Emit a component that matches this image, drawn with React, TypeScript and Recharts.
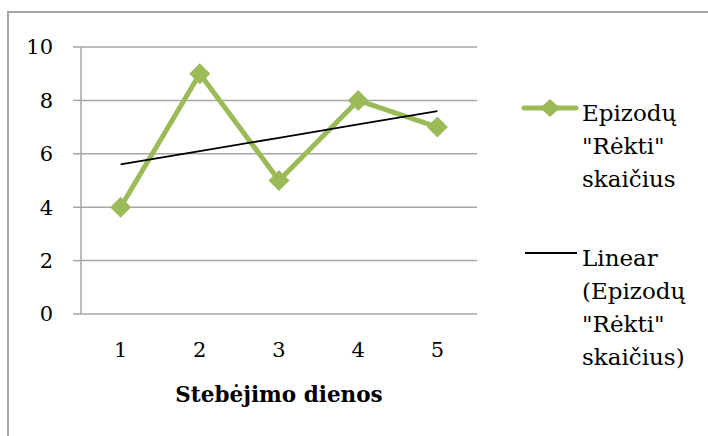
import { LineChart, Line, XAxis, YAxis, CartesianGrid } from "recharts";

// Episode counts per observation day, plus the fitted linear trend
const days = [1, 2, 3, 4, 5];
const episodes = [4, 9, 5, 8, 7];
const trend = [5.6, 6.1, 6.6, 7.1, 7.6];
const yTicks = [0, 2, 4, 6, 8, 10];
const dayEdges = [0.5, 1.5, 2.5, 3.5, 4.5, 5.5];

const axisTitle = "Stebėjimo dienos";
const seriesLines = ["Epizodų", "\"Rėkti\"", "skaičius"];
const trendLines = ["Linear", "(Epizodų", "\"Rėkti\"", "skaičius)"];

const GREEN = "#9bbb59";
const GRID = "#a6a6a6";
const FONT = '"DejaVu Serif", serif';

const data = days.map((day, i) => ({ day, episodes: episodes[i], trend: trend[i] }));

function Diamond(props: any) {
    const { cx, cy } = props;
    if (cx == null || cy == null) return null;
    const r = 10.5;
    return (
        <polygon
            key={`d-${cx}`}
            points={`${cx},${cy - r} ${cx + r},${cy} ${cx},${cy + r} ${cx - r},${cy}`}
            fill={GREEN}
        />
    );
}

function LegendEntry({ top, lines, children }: { top: number; lines: string[]; children: any }) {
    return (
        <>
            <svg
                width={60}
                height={24}
                style={{ position: "absolute", left: 520, top: top - 12 }}
            >
                {children}
            </svg>
            <div
                style={{
                    position: "absolute",
                    left: 582,
                    top: top - 11,
                    fontFamily: FONT,
                    fontSize: 23,
                    lineHeight: "33px",
                    color: "#000",
                    whiteSpace: "nowrap",
                }}
            >
                {lines.map((l) => (
                    <div key={l}>{l}</div>
                ))}
            </div>
        </>
    );
}

export default function App() {
    return (
        <div
            style={{
                position: "absolute",
                left: 0,
                top: 0,
                width: 708,
                height: 436,
                overflow: "hidden",
                background: "#fff",
            }}
        >
            {/* chart frame, only top and left edges are visible */}
            <div
                style={{
                    position: "absolute",
                    left: 7,
                    top: 11,
                    width: 800,
                    height: 600,
                    borderTop: `2px solid ${GRID}`,
                    borderLeft: `2px solid ${GRID}`,
                }}
            />
            <div style={{ position: "absolute", left: 0, top: 0 }}>
                <LineChart
                    width={708}
                    height={436}
                    data={data}
                    margin={{ top: 47, right: 231, bottom: 32, left: 0 }}
                >
                    <CartesianGrid xAxisId="days" vertical={false} stroke={GRID} strokeWidth={1.5} />
                    {/* boundary tick marks between days */}
                    <XAxis
                        xAxisId="edges"
                        dataKey="day"
                        type="number"
                        domain={[0.5, 5.5]}
                        ticks={dayEdges}
                        tick={false}
                        height={0}
                        tickSize={8}
                        axisLine={{ stroke: GRID, strokeWidth: 1.5 }}
                        tickLine={{ stroke: GRID, strokeWidth: 1.5 }}
                    />
                    <XAxis
                        xAxisId="days"
                        dataKey="day"
                        type="number"
                        domain={[0.5, 5.5]}
                        ticks={days}
                        height={90}
                        tickSize={8}
                        tickMargin={20}
                        axisLine={false}
                        tickLine={false}
                        tick={{ fontSize: 21, fill: "#000", fontFamily: FONT }}
                        label={{
                            value: axisTitle,
                            position: "insideBottom",
                            offset: 2,
                            fontSize: 21.5,
                            fontWeight: "bold",
                            fill: "#000",
                            fontFamily: FONT,
                        }}
                    />
                    <YAxis
                        domain={[0, 10]}
                        ticks={yTicks}
                        width={81}
                        tickSize={8}
                        tickMargin={20}
                        axisLine={{ stroke: GRID, strokeWidth: 1.5 }}
                        tickLine={{ stroke: GRID, strokeWidth: 1.5 }}
                        tick={{ fontSize: 21, fill: "#000", fontFamily: FONT }}
                    />
                    <Line
                        xAxisId="days"
                        dataKey="episodes"
                        stroke={GREEN}
                        strokeWidth={5}
                        strokeLinejoin="round"
                        dot={<Diamond />}
                        activeDot={false}
                        isAnimationActive={false}
                    />
                    <Line
                        xAxisId="days"
                        dataKey="trend"
                        stroke="#000"
                        strokeWidth={1.8}
                        dot={false}
                        activeDot={false}
                        isAnimationActive={false}
                    />
                </LineChart>
            </div>
            <LegendEntry top={108} lines={seriesLines}>
                <line x1={4} y1={12} x2={56} y2={12} stroke={GREEN} strokeWidth={5} strokeLinecap="round" />
                <polygon points="30,3 40,12 30,21 20,12" fill={GREEN} />
            </LegendEntry>
            <LegendEntry top={253} lines={trendLines}>
                <line x1={5} y1={12} x2={57} y2={12} stroke="#000" strokeWidth={1.8} />
            </LegendEntry>
        </div>
    );
}
